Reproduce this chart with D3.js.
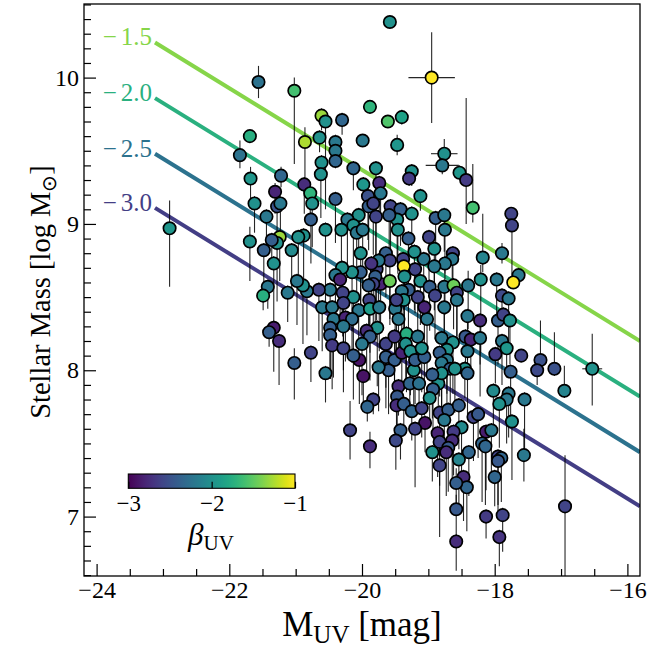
<!DOCTYPE html>
<html>
<head>
<meta charset="utf-8">
<script src="https://cdn.jsdelivr.net/npm/d3@7"></script>
<style>
  body { margin: 0; background: #fff; }
  svg { display: block; }
  svg text { font-family: "Liberation Serif", "Times New Roman", serif; }
</style>
</head>
<body>
<svg id="chart" width="652" height="648"></svg>
<script>
// ---------- DATA ----------
// absolute UV magnitude of each galaxy
const MUV = [
  -22.90, -21.56, -21.69, -21.84, -21.68, -21.22, -21.31, -21.02, -19.58, -18.95,
  -19.88, -19.61, -19.40, -20.61, -20.55, -20.30, -20.64, -20.86, -20.40, -20.40,
  -19.99, -19.47, -18.76, -18.79, -18.53, -20.61, -20.40, -20.13, -19.79, -19.25,
  -19.29, -20.62, -20.87, -20.78, -19.98, -19.74, -19.72, -19.91, -20.40, -19.12,
  -18.43, -18.33, -17.75, -17.74, -17.89, -18.18, -17.64, -17.72, -18.21, -17.97,
  -18.40, -17.89, -17.79, -18.41, -18.22, -17.95, -17.87, -17.77, -18.44, -18.36,
  -18.22, -17.89, -17.82, -18.41, -17.99, -17.60, -17.31, -17.36, -17.10, -16.53,
  -17.76, -18.45, -18.41, -16.95, -18.02, -17.79, -17.82, -17.55, -17.93, -18.32,
  -18.25, -17.74, -18.50, -18.13, -18.05, -18.19, -18.14, -18.39, -17.95, -17.90,
  -17.95, -17.56, -18.00, -18.47, -18.42, -16.94, -18.13, -17.88, -17.93, -18.58,
  -19.83, -19.92, -20.18, -19.88, -19.45, -19.28, -19.14, -18.85, -18.93, -19.47,
  -19.48, -19.37, -19.25, -19.10, -18.98, -18.83, -18.70, -18.76, -18.54, -19.05,
  -19.20, -19.42, -19.49, -18.86, -18.62, -18.83, -18.64, -18.70, -18.73, -18.94,
  -18.83, -18.54, -18.58, -18.58, -20.75, -19.90, -19.83, -19.57, -19.42, -19.25,
  -19.47, -19.59, -19.79, -20.05, -20.22, -20.13, -20.31, -20.08, -19.99, -20.55,
  -20.77, -20.88, -19.46, -19.30, -18.99, -18.89, -18.76, -18.75, -18.91, -18.63,
  -18.64, -18.75, -18.91, -19.07, -19.21, -19.38, -19.20, -19.37, -19.36, -19.12,
  -18.98, -18.90, -18.76, -18.62, -18.57, -18.57, -18.76, -19.02, -19.06, -19.16,
  -19.30, -19.40, -19.37, -19.50, -19.48, -19.45, -19.72, -19.58, -19.78, -19.64,
  -19.58, -19.75, -19.86, -20.02, -20.02, -20.15, -20.30, -20.40, -20.33, -19.80,
  -19.83, -19.90, -20.13, -20.29, -20.48, -20.65, -20.60, -20.83, -20.89, -20.45,
  -20.28, -20.05, -19.89, -19.88, -19.74, -20.43, -20.25, -20.15, -20.48, -20.48,
  -20.28, -19.77, -19.93, -19.88, -20.00, -20.45, -20.28, -20.04, -20.13, -20.77,
  -20.55, -19.98, -19.64, -19.64, -19.51, -19.51, -19.40, -19.33, -19.34, -19.27,
  -19.16, -19.22, -19.20, -19.06, -19.10, -19.60, -19.75, -18.80, -18.63, -18.72,
  -18.83, -18.72, -18.80, -18.67, -18.80, -18.60, -18.94, -21.62, -21.44, -21.28,
  -21.23, -21.69, -21.48, -21.24, -21.28, -21.36, -21.06, -21.33, -20.96, -21.42,
  -21.49, -21.12, -20.98, -21.33, -21.40, -21.25, -21.02
];
// stellar mass, log Msun
const LOGM = [
   8.97,  9.97,  9.60,  9.47,  9.31,  9.33,  9.22,  9.91, 10.38, 10.00,
   9.80,  9.70,  9.73,  9.74,  9.70,  9.71,  9.59,  9.56,  9.56,  9.50,
   9.57,  9.54,  9.48,  9.40,  9.35,  9.42,  9.43,  9.38,  9.38,  9.36,
   9.31,  9.34,  9.27,  9.21,  9.27,  9.28,  9.21,  9.19,  9.17,  9.19,
   9.30,  9.11,  9.07,  8.99,  8.80,  8.77,  8.65,  8.60,  8.62,  8.62,
   8.58,  8.51,  8.49,  8.37,  8.34,  8.34,  8.38,  8.34,  8.23,  8.21,
   8.22,  8.20,  8.15,  8.13,  8.11,  8.10,  8.07,  8.00,  8.01,  8.01,
   7.99,  8.01,  7.98,  7.86,  7.86,  7.84,  7.80,  7.80,  7.77,  7.68,
   7.70,  7.65,  7.61,  7.58,  7.59,  7.50,  7.48,  7.44,  7.41,  7.40,
   7.38,  7.42,  7.27,  7.27,  7.20,  7.07,  7.00,  7.01,  6.86,  6.83,
   7.80,  7.75,  7.59,  7.48,  7.89,  7.91,  7.91,  7.91,  7.87,  7.82,
   7.76,  7.77,  7.72,  7.74,  7.81,  7.71,  7.73,  7.66,  7.76,  7.64,
   7.60,  7.59,  7.52,  7.57,  7.58,  7.51,  7.52,  7.47,  7.44,  7.44,
   7.35,  7.39,  7.23,  7.05,  9.14,  9.12,  9.14,  9.12,  9.10,  9.07,
   9.03,  9.06,  9.05,  9.06,  9.03,  8.99,  8.96,  8.94,  8.96,  8.96,
   9.03,  8.92,  8.96,  8.90,  8.91,  9.04,  9.06,  8.96,  8.83,  8.80,
   8.76,  8.73,  8.71,  8.76,  8.81,  8.76,  8.69,  8.71,  8.64,  8.61,
   8.57,  8.51,  8.57,  8.58,  8.53,  8.48,  8.43,  8.35,  8.43,  8.50,
   8.55,  8.54,  8.48,  8.42,  8.48,  8.35,  8.59,  8.61,  8.69,  8.80,
   8.75,  8.75,  8.73,  8.80,  8.67,  8.67,  8.70,  8.65,  8.62,  8.64,
   8.59,  8.58,  8.50,  8.53,  8.55,  8.55,  8.43,  8.54,  8.58,  8.43,
   8.46,  8.41,  8.48,  8.42,  8.43,  8.35,  8.36,  8.35,  8.29,  8.24,
   8.30,  8.29,  8.27,  8.23,  8.18,  8.17,  8.15,  8.07,  8.10,  8.12,
   7.98,  7.96,  8.18,  8.09,  8.23,  8.07,  8.12,  8.25,  8.18,  8.13,
   8.23,  8.00,  8.07,  8.09,  8.15,  8.00,  8.02,  8.22,  8.19,  8.14,
   8.12,  8.07,  8.05,  8.01,  7.98,  8.01,  7.97,  9.14,  9.05,  9.12,
   9.14,  8.88,  8.82,  8.91,  8.87,  8.89,  8.82,  8.73,  8.91,  8.57,
   8.51,  8.53,  8.61,  8.29,  8.26,  8.20,  8.05
];
// UV slope
const BETA = [
  -1.95, -2.25, -1.75, -2.25, -1.95, -2.35, -2.80, -1.60, -2.00, -1.00,
  -1.70, -1.55, -1.85, -1.30, -2.00, -2.35, -2.00, -1.25, -2.20, -2.20,
  -2.20, -1.95, -2.00, -2.20, -1.95, -2.00, -2.35, -2.35, -2.00, -2.00,
  -2.65, -2.00, -2.75, -1.70, -1.95, -2.75, -2.20, -2.50, -2.40, -2.00,
  -2.65, -1.60, -2.60, -2.60, -2.20, -2.10, -2.20, -1.00, -2.00, -2.20,
  -2.20, -2.55, -2.20, -2.20, -2.75, -2.40, -2.60, -2.00, -2.45, -2.80,
  -2.20, -2.20, -1.95, -2.20, -2.65, -2.60, -2.50, -2.55, -2.50, -2.00,
  -2.40, -2.00, -2.35, -2.10, -2.05, -2.20, -2.20, -2.20, -2.00, -2.60,
  -2.45, -2.00, -2.05, -2.85, -2.20, -2.35, -2.35, -2.35, -2.60, -2.35,
  -2.45, -2.20, -2.35, -2.75, -2.35, -2.60, -2.65, -2.60, -2.70, -2.75,
  -2.60, -2.35, -2.60, -2.75, -2.75, -2.35, -2.25, -2.00, -2.40, -2.45,
  -2.75, -2.40, -2.35, -2.60, -2.00, -2.60, -2.40, -2.20, -2.40, -2.90,
  -2.60, -2.40, -2.55, -2.80, -2.65, -2.60, -2.75, -2.45, -2.75, -2.00,
  -2.60, -2.10, -2.40, -2.45, -2.00, -2.40, -2.60, -2.60, -2.40, -2.00,
  -2.00, -2.40, -2.60, -2.00, -2.20, -2.00, -2.00, -2.20, -2.20, -2.00,
  -2.40, -2.00, -2.00, -2.40, -2.60, -2.40, -2.20, -2.20, -2.00, -2.60,
  -2.20, -2.20, -2.20, -2.20, -2.00, -2.60, -2.60, -1.00, -2.00, -2.00,
  -2.40, -2.60, -2.20, -1.45, -2.60, -2.20, -2.20, -2.20, -2.80, -2.60,
  -2.40, -2.20, -2.00, -2.20, -2.60, -2.20, -2.80, -1.45, -2.60, -2.40,
  -2.60, -2.20, -2.70, -2.00, -2.40, -2.00, -2.00, -2.20, -2.80, -2.40,
  -2.60, -2.40, -2.00, -2.60, -2.20, -2.60, -2.20, -2.20, -2.00, -2.20,
  -2.60, -2.20, -2.60, -1.90, -2.20, -2.20, -2.80, -2.30, -2.40, -2.40,
  -2.20, -2.00, -2.75, -2.40, -2.20, -2.65, -2.60, -2.90, -2.40, -2.60,
  -2.20, -2.90, -2.60, -2.40, -2.65, -2.40, -2.80, -1.75, -2.00, -2.00,
  -2.20, -2.00, -2.40, -2.40, -2.00, -2.40, -2.20, -2.20, -2.00, -2.00,
  -2.40, -2.20, -2.20, -2.40, -2.00, -2.00, -2.40, -2.00, -2.20, -2.50,
  -2.20, -2.00, -2.40, -1.30, -2.00, -2.40, -2.05, -2.00, -2.00, -2.20,
  -1.75, -2.20, -2.20, -2.85, -2.40, -2.75, -2.40
];
// lower / upper mass uncertainty (dex)
const ERR_LO = [
  0.40, 0.11, 0.03, 0.09, 0.16, 0.08, 0.15, 0.50, 0.02, 0.31,
  0.04, 0.02, 0.05, 0.10, 0.60, 0.10, 0.10, 0.30, 0.05, 0.05,
  0.04, 0.07, 0.10, 0.06, 0.05, 0.10, 0.05, 0.15, 0.60, 0.10,
  0.05, 0.30, 0.20, 0.20, 0.10, 0.20, 0.15, 0.30, 0.30, 0.10,
  0.30, 0.10, 0.03, 0.35, 0.07, 0.10, 0.05, 0.03, 0.50, 0.30,
  0.30, 0.20, 0.30, 0.30, 0.30, 0.30, 0.05, 0.30, 0.20, 0.20,
  0.40, 0.30, 0.20, 0.20, 0.20, 0.03, 0.05, 0.10, 0.05, 0.25,
  0.30, 0.20, 0.30, 0.05, 0.30, 0.30, 0.30, 0.35, 0.30, 0.30,
  0.30, 0.40, 0.30, 0.40, 0.30, 0.40, 0.40, 0.30, 0.40, 0.30,
  0.30, 0.18, 0.20, 0.30, 0.30, 0.50, 0.15, 0.25, 0.20, 0.20,
  0.10, 0.10, 0.20, 0.15, 0.20, 0.20, 0.20, 0.20, 0.30, 0.20,
  0.20, 0.20, 0.20, 0.20, 0.20, 0.30, 0.30, 0.30, 0.30, 0.20,
  0.40, 0.20, 0.20, 0.30, 0.30, 0.30, 0.30, 0.30, 0.30, 0.20,
  0.49, 0.30, 0.20, 0.20, 0.30, 0.30, 0.35, 0.30, 0.25, 0.30,
  0.30, 0.35, 0.30, 0.30, 0.40, 0.30, 0.35, 0.40, 0.40, 0.50,
  0.30, 0.30, 0.30, 0.35, 0.30, 0.30, 0.25, 0.30, 0.30, 0.30,
  0.30, 0.35, 0.30, 0.30, 0.40, 0.30, 0.30, 0.30, 0.35, 0.30,
  0.30, 0.30, 0.35, 0.30, 0.30, 0.30, 0.30, 0.40, 0.30, 0.30,
  0.30, 0.35, 0.30, 0.30, 0.40, 0.30, 0.30, 0.30, 0.35, 0.30,
  0.40, 0.30, 0.30, 0.35, 0.30, 0.40, 0.30, 0.30, 0.30, 0.35,
  0.30, 0.30, 0.40, 0.30, 0.30, 0.35, 0.30, 0.30, 0.40, 0.30,
  0.30, 0.35, 0.30, 0.30, 0.30, 0.40, 0.30, 0.30, 0.35, 0.30,
  0.30, 0.40, 0.30, 0.30, 0.35, 0.30, 0.30, 0.30, 0.30, 0.20,
  0.20, 0.20, 0.30, 0.35, 0.30, 0.30, 0.30, 0.40, 0.30, 0.30,
  0.35, 0.30, 0.30, 0.40, 0.30, 0.30, 0.30, 0.30, 0.35, 0.30,
  0.30, 0.40, 0.30, 0.30, 0.35, 0.30, 0.30, 0.20, 0.15, 0.30,
  0.30, 0.27, 0.30, 0.30, 0.40, 0.20, 0.30, 0.40, 0.30, 0.15,
  0.10, 0.20, 0.30, 0.30, 0.10, 0.30, 0.25
];
const ERR_HI = [
  0.19, 0.11, 0.03, 0.10, 0.08, 0.06, 0.06, 0.09, 0.02, 0.31,
  0.04, 0.02, 0.05, 0.05, 0.05, 0.05, 0.05, 0.10, 0.05, 0.05,
  0.04, 0.07, 0.10, 0.06, 0.05, 0.05, 0.05, 0.05, 0.05, 0.05,
  0.05, 0.05, 0.05, 0.05, 0.05, 0.05, 0.05, 0.05, 0.05, 0.05,
  0.56, 0.30, 0.03, 0.03, 0.07, 0.30, 0.05, 0.03, 0.10, 0.05,
  0.10, 0.05, 0.05, 0.05, 0.05, 0.05, 0.05, 0.05, 0.05, 0.05,
  0.05, 0.05, 0.05, 0.05, 0.05, 0.03, 0.27, 0.05, 0.25, 0.24,
  0.05, 0.05, 0.05, 0.17, 0.05, 0.05, 0.05, 0.05, 0.05, 0.05,
  0.05, 0.05, 0.05, 0.05, 0.05, 0.05, 0.05, 0.05, 0.05, 0.05,
  0.05, 0.18, 0.05, 0.05, 0.05, 0.35, 0.05, 0.05, 0.05, 0.05,
  0.05, 0.05, 0.20, 0.10, 0.05, 0.05, 0.05, 0.05, 0.05, 0.05,
  0.05, 0.05, 0.05, 0.05, 0.05, 0.05, 0.05, 0.05, 0.05, 0.05,
  0.05, 0.05, 0.05, 0.05, 0.05, 0.05, 0.05, 0.05, 0.05, 0.05,
  0.05, 0.05, 0.10, 0.10, 0.05, 0.05, 0.05, 0.05, 0.05, 0.05,
  0.05, 0.05, 0.05, 0.05, 0.05, 0.05, 0.05, 0.05, 0.05, 0.05,
  0.05, 0.05, 0.05, 0.05, 0.05, 0.05, 0.05, 0.05, 0.05, 0.05,
  0.05, 0.05, 0.05, 0.05, 0.05, 0.05, 0.05, 0.05, 0.05, 0.05,
  0.05, 0.05, 0.05, 0.05, 0.05, 0.05, 0.05, 0.05, 0.05, 0.05,
  0.05, 0.05, 0.05, 0.05, 0.05, 0.05, 0.05, 0.05, 0.05, 0.05,
  0.05, 0.05, 0.05, 0.05, 0.05, 0.05, 0.05, 0.05, 0.05, 0.05,
  0.05, 0.05, 0.05, 0.05, 0.05, 0.05, 0.05, 0.05, 0.05, 0.05,
  0.05, 0.05, 0.05, 0.05, 0.05, 0.05, 0.05, 0.05, 0.05, 0.05,
  0.05, 0.05, 0.05, 0.05, 0.05, 0.05, 0.05, 0.05, 0.05, 0.05,
  0.05, 0.05, 0.05, 0.05, 0.05, 0.05, 0.05, 0.05, 0.05, 0.05,
  0.05, 0.05, 0.05, 0.05, 0.05, 0.05, 0.05, 0.05, 0.05, 0.05,
  0.05, 0.05, 0.05, 0.05, 0.05, 0.05, 0.05, 0.05, 0.05, 0.05,
  0.05, 0.10, 0.05, 0.05, 0.05, 0.05, 0.05, 0.05, 0.05, 0.05,
  0.05, 0.05, 0.05, 0.05, 0.05, 0.05, 0.10
];
// magnitude uncertainty, only a few sources have a visible one
const XERR_IDX = [9, 21, 22, 23, 65, 69];
const XERR_VAL = [0.35, 0.10, 0.20, 0.25, 0.10, 0.15];

// constant beta lines
const LINE_BETA = [-1.5, -2.0, -2.5, -3.0];
const LINE_LABELS = ["1.5", "2.0", "2.5", "3.0"];
const LINE_MUV = [-23.12, -15.81];
const LINE_START = [10.24, 9.86, 9.48, 9.11];
const LINE_END = [8.20, 7.82, 7.44, 7.07];
const LINE_COLORS = ["#86d549", "#2ab07f", "#2c728e", "#433e85"];

const X_TICKS = [-24, -22, -20, -18, -16];
const Y_TICKS = [7, 8, 9, 10];
const CB_TICKS = [-3, -2, -1];

// ---------- SCAFFOLD ----------
const svg = d3.select("#chart");
const plot = { left: 84, right: 640, top: 4, bottom: 576 };
const SERIF = '"Liberation Serif", "Times New Roman", serif';

const x = d3.scaleLinear().domain([-24.19, -15.81]).range([plot.left, plot.right]);
const y = d3.scaleLinear().domain([6.594, 10.503]).range([plot.bottom, plot.top]);
const color = d3.scaleSequential(d3.interpolateViridis).domain([-3, -1]).clamp(true);

svg.append("rect").attr("width", 652).attr("height", 648).attr("fill", "#fff");

svg.append("defs").append("clipPath").attr("id", "clip")
  .append("rect")
  .attr("x", plot.left).attr("y", plot.top)
  .attr("width", plot.right - plot.left).attr("height", plot.bottom - plot.top);

const body = svg.append("g").attr("clip-path", "url(#clip)");

// ---------- BETA LINES ----------
LINE_BETA.forEach((b, i) => {
  body.append("line")
    .attr("x1", x(LINE_MUV[0])).attr("y1", y(LINE_START[i]))
    .attr("x2", x(LINE_MUV[1])).attr("y2", y(LINE_END[i]))
    .attr("stroke", LINE_COLORS[i])
    .attr("stroke-width", 4);
  // minus sign is wider in the original math font, give it some room
  const t = svg.append("text")
    .attr("x", x(LINE_MUV[0]) - 3)
    .attr("y", y(LINE_START[i]) + 3)
    .attr("text-anchor", "end")
    .attr("font-size", 25)
    .attr("fill", LINE_COLORS[i]);
  t.append("tspan").text("\u2212");
  t.append("tspan").attr("dx", 4).text(LINE_LABELS[i]);
});

// ---------- POINTS ----------
const pts = MUV.map((m, i) => ({
  m, lm: LOGM[i], b: BETA[i], lo: ERR_LO[i], hi: ERR_HI[i],
  xe: XERR_IDX.includes(i) ? XERR_VAL[XERR_IDX.indexOf(i)] : 0
}));

body.append("g").selectAll("line")
  .data(pts)
  .join("line")
  .attr("x1", d => x(d.m)).attr("x2", d => x(d.m))
  .attr("y1", d => y(d.lm - d.lo)).attr("y2", d => y(d.lm + d.hi))
  .attr("stroke", "#000").attr("stroke-width", 1.1).attr("stroke-opacity", 0.85);

body.append("g").selectAll("line")
  .data(pts.filter(d => d.xe > 0))
  .join("line")
  .attr("x1", d => x(d.m - d.xe)).attr("x2", d => x(d.m + d.xe))
  .attr("y1", d => y(d.lm)).attr("y2", d => y(d.lm))
  .attr("stroke", "#000").attr("stroke-width", 1.1).attr("stroke-opacity", 0.85);

body.append("g").selectAll("circle")
  .data(pts)
  .join("circle")
  .attr("cx", d => x(d.m))
  .attr("cy", d => y(d.lm))
  .attr("r", 6.2)
  .attr("fill", d => color(d.b))
  .attr("stroke", "#000")
  .attr("stroke-width", 1.7);

// ---------- AXES ----------
const xMinor = d3.range(-24, -15.9, 0.5).filter(v => !X_TICKS.includes(v));
const yMinor = d3.range(66, 106).map(v => v / 10).filter(v => !Y_TICKS.includes(v));

function styleAxis(g, size = 24) {
  g.attr("font-family", null).attr("font-size", null);
  g.select(".domain").remove();
  g.selectAll("line").attr("stroke", "#000").attr("stroke-width", 1.2);
  g.selectAll("text").attr("fill", "#000")
    .style("font-family", SERIF).style("font-size", size + "px");
}

svg.append("g")
  .attr("transform", `translate(0,${plot.bottom})`)
  .call(d3.axisBottom(x).tickValues(X_TICKS).tickSize(-12).tickPadding(5).tickFormat(d3.format("d")))
  .call(styleAxis);
svg.append("g")
  .attr("transform", `translate(0,${plot.bottom})`)
  .call(d3.axisBottom(x).tickValues(xMinor).tickSize(-7).tickFormat(""))
  .call(styleAxis);

svg.append("g")
  .attr("transform", `translate(${plot.left},0)`)
  .call(d3.axisLeft(y).tickValues(Y_TICKS).tickSize(-12).tickPadding(5).tickFormat(d3.format("d")))
  .call(styleAxis);
svg.append("g")
  .attr("transform", `translate(${plot.left},0)`)
  .call(d3.axisLeft(y).tickValues(yMinor).tickSize(-7).tickFormat(""))
  .call(styleAxis);

// frame
svg.append("rect")
  .attr("x", plot.left).attr("y", plot.top)
  .attr("width", plot.right - plot.left).attr("height", plot.bottom - plot.top)
  .attr("fill", "none").attr("stroke", "#000").attr("stroke-width", 1.3);

// axis labels
const xl = svg.append("text")
  .attr("x", (plot.left + plot.right) / 2).attr("y", 636)
  .attr("text-anchor", "middle").attr("font-size", 35);
xl.append("tspan").text("M");
xl.append("tspan").attr("font-size", 25).attr("dy", 7).text("UV");
xl.append("tspan").attr("dy", -7).text(" [mag]");

const yl = svg.append("text")
  .attr("transform", "translate(50,292) rotate(-90)")
  .attr("text-anchor", "middle").attr("font-size", 28.5);
yl.append("tspan").text("Stellar Mass [log M");
yl.append("tspan").attr("font-size", 20).attr("dy", 6).text("\u2299");
yl.append("tspan").attr("dy", -6).text("]");

// ---------- COLORBAR ----------
const cb = { x0: 128.3, x1: 295, y0: 474, y1: 488.3 };
const cbx = d3.scaleLinear().domain([-3, -1]).range([cb.x0, cb.x1]);
const grad = svg.select("defs").append("linearGradient").attr("id", "cbgrad");
d3.range(0, 1.0001, 0.05).forEach(t => {
  grad.append("stop").attr("offset", t).attr("stop-color", d3.interpolateViridis(t));
});
svg.append("rect")
  .attr("x", cb.x0).attr("y", cb.y0)
  .attr("width", cb.x1 - cb.x0).attr("height", cb.y1 - cb.y0)
  .attr("fill", "url(#cbgrad)")
  .attr("stroke", "#000").attr("stroke-width", 1.1);

svg.append("g")
  .attr("transform", `translate(0,${cb.y1})`)
  .call(d3.axisBottom(cbx).tickValues(CB_TICKS).tickSize(-6.5).tickPadding(6).tickFormat(d3.format("d")))
  .call(g => styleAxis(g, 23));

const bl = svg.append("text")
  .attr("x", 211).attr("y", 545)
  .attr("text-anchor", "middle").attr("font-size", 31);
bl.append("tspan").attr("font-style", "italic").text("\u03b2");
bl.append("tspan").attr("font-size", 21).attr("dy", 5).text("UV");
</script>
</body>
</html>
